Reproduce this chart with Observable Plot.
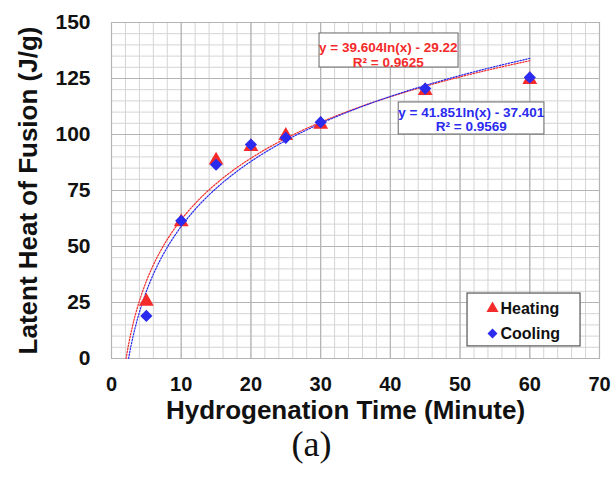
<!DOCTYPE html>
<html>
<head>
<meta charset="utf-8">
<script src="https://cdn.jsdelivr.net/npm/d3@7"></script>
<script src="https://cdn.jsdelivr.net/npm/@observablehq/plot@0.6"></script>
<style>
  body { margin: 0; background: #fff; }
  svg { display: block; }
</style>
</head>
<body>
<div id="chart"></div>
<script>
// ---- data ----
const times   = [5, 10, 15, 20, 25, 30, 45, 60];
const heating = [25.5, 61, 88.5, 94.5, 99.5, 104.5, 119.5, 124.5];
const cooling = [19, 61.5, 86.5, 95.5, 98.5, 105.5, 120.5, 125.5];
const xTicks = [0, 10, 20, 30, 40, 50, 60, 70];
const yTicks = [0, 25, 50, 75, 100, 125, 150];
// trendline equations shown on the chart: y = a ln(x) + b
const fitNames = ["Heating", "Cooling"];
const fitA = [39.604, 41.851];
const fitB = [-29.22, -37.401];
const fitLabels = ["y = 39.604ln(x) - 29.22", "y = 41.851ln(x) - 37.401"];
const r2Labels = ["R² = 0.9625", "R² = 0.9569"];
const seriesColors = ["#f52a2a", "#2b2bf0"];

const heatPts = times.map((t, i) => ({x: t, y: heating[i]}));
const coolPts = times.map((t, i) => ({x: t, y: cooling[i]}));

function fitCurve(k) {
  const x0 = Math.exp(-fitB[k] / fitA[k]);
  const xs = d3.range(x0, 60.001, 0.1);
  if (xs[xs.length - 1] < 60) xs.push(60);
  return xs.map(x => ({x, y: fitA[k] * Math.log(x) + fitB[k]}));
}

// annotation boxes (data units)
const eqBoxes = [
  {x1: 29.84, x2: 49.78, y1: 129.9, y2: 145.1, cx: 39.7, l1: 138.8, l2: 132.1, k: 0},
  {x1: 41.2, x2: 62.1, y1: 100.0, y2: 114.3, cx: 51.6, l1: 109.8, l2: 103.6, k: 1}
];
const legendBox = [{x1: 51.07, x2: 67.28, y1: 5.4, y2: 29.0}];
const legendItems = [
  {x: 54.65, tx: 55.8, y: 22.3, name: "Heating", symbol: "triangle", color: seriesColors[0]},
  {x: 54.65, tx: 55.8, y: 11.2, name: "Cooling", symbol: "diamond2", color: seriesColors[1]}
];

const font = "'Liberation Sans', Arial, sans-serif";

const chart = Plot.plot({
  width: 614,
  height: 481,
  marginLeft: 111,
  marginRight: 15,
  marginTop: 22,
  marginBottom: 123,
  style: {fontFamily: font, background: "#fff"},
  x: {domain: [0, 70]},
  y: {domain: [0, 150]},
  marks: [
    // minor grid
    Plot.gridX(d3.range(0, 71, 2), {stroke: "#d4d4d4", strokeOpacity: 1, strokeWidth: 1}),
    Plot.gridY(d3.range(0, 151, 5), {stroke: "#d4d4d4", strokeOpacity: 1, strokeWidth: 1}),
    // major grid
    Plot.gridX(xTicks, {stroke: "#b4b4b4", strokeOpacity: 1, strokeWidth: 1.2}),
    Plot.gridY(yTicks, {stroke: "#b4b4b4", strokeOpacity: 1, strokeWidth: 1.2}),
    Plot.frame({stroke: "#b4b4b4"}),
    // axes
    Plot.axisX(xTicks, {tickSize: 0, tickPadding: 18, fontSize: 20, fontWeight: "bold", fill: "#111", label: null}),
    Plot.axisY(yTicks, {tickSize: 0, tickPadding: 21, fontSize: 21, fontWeight: "bold", fill: "#111", label: null}),
    // trend lines
    Plot.line(fitCurve(0), {x: "x", y: "y", stroke: seriesColors[0], strokeWidth: 1.2, strokeDasharray: "1.5,1.5"}),
    Plot.line(fitCurve(1), {x: "x", y: "y", stroke: seriesColors[1], strokeWidth: 1.2, strokeDasharray: "1.5,1.5"}),
    // data points
    Plot.dot(heatPts, {x: "x", y: "y", symbol: "triangle", r: 5.5, fill: seriesColors[0], stroke: "none"}),
    Plot.dot(coolPts, {x: "x", y: "y", symbol: "diamond2", r: 5.5, fill: seriesColors[1], stroke: "none"}),
    // equation boxes
    Plot.rect(eqBoxes, {x1: "x1", x2: "x2", y1: "y1", y2: "y2", fill: "#fff", stroke: "#666", strokeWidth: 1}),
    Plot.text(eqBoxes, {x: "cx", y: "l1", text: d => fitLabels[d.k], fill: d => seriesColors[d.k], fontSize: 13.5, fontWeight: "bold"}),
    Plot.text(eqBoxes, {x: "cx", y: "l2", text: d => r2Labels[d.k], fill: d => seriesColors[d.k], fontSize: 13.5, fontWeight: "bold"}),
    // legend
    Plot.rect(legendBox, {x1: "x1", x2: "x2", y1: "y1", y2: "y2", fill: "#fff", stroke: "#555", strokeWidth: 1.2}),
    Plot.dot(legendItems, {x: "x", y: "y", symbol: "symbol", r: 4.5, fill: "color", stroke: "none"}),
    Plot.text(legendItems, {x: "tx", y: "y", text: "name", textAnchor: "start", fontSize: 16, fontWeight: "bold", fill: "#111"}),
    // axis titles & caption
    Plot.text(["Latent Heat of Fusion (J/g)"], {frameAnchor: "left", textAnchor: "middle", dx: -83, rotate: -90, fontSize: 26, fontWeight: "bold", fill: "#111"}),
    Plot.text(["Hydrogenation Time (Minute)"], {frameAnchor: "bottom", dy: 60, dx: -10, fontSize: 26, fontWeight: "bold", fill: "#111"}),
    Plot.text(["(a)"], {frameAnchor: "bottom", dy: 97, dx: -44, fontSize: 36, fontFamily: "'Liberation Serif', 'Times New Roman', serif", fill: "#111"})
  ]
});
document.getElementById("chart").appendChild(chart);
</script>
</body>
</html>
